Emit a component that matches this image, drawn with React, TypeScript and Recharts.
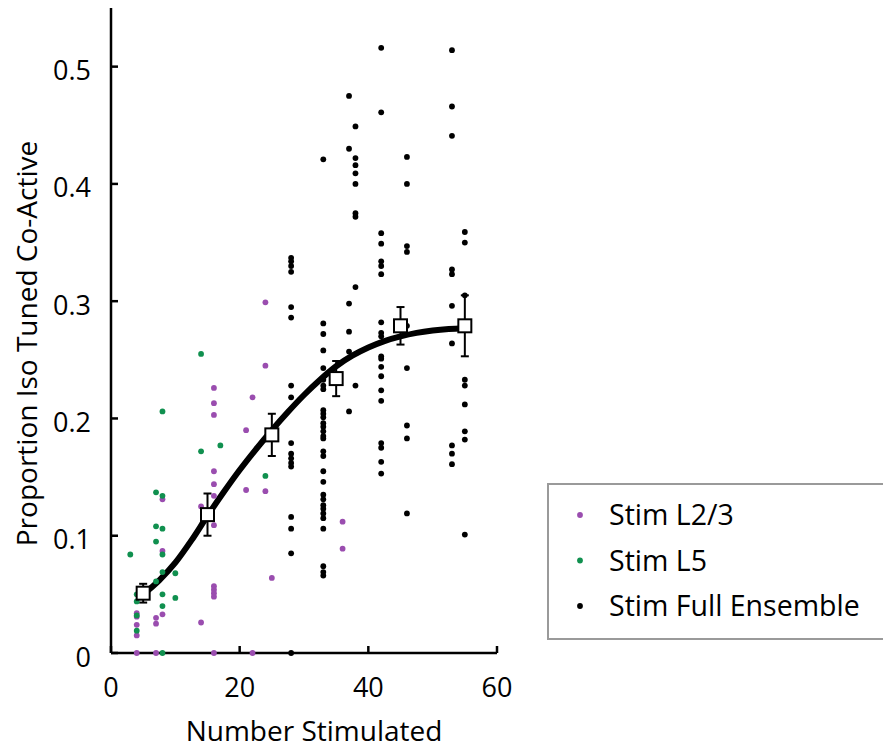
import React from 'react';
import { ComposedChart, Scatter, Line, XAxis, YAxis, ErrorBar, Legend, Label } from 'recharts';

const FONT = '"Open Sans", "Noto Sans", sans-serif';
const PURPLE = '#9a4daf';
const GREEN = '#10904f';
const BLACK = '#000000';

// Stim L2/3 (purple) points: [number stimulated, proportion]
const l23Points: [number, number][] = [
  [4, 0.034], [4, 0.031], [4, 0.024], [4, 0.015], [4, 0],
  [7, 0.030], [7, 0.025], [7, 0],
  [8, 0.131], [8, 0.087], [8, 0.033],
  [14, 0.125], [14, 0.026],
  [16, 0.226], [16, 0.213], [16, 0.203], [16, 0.155], [16, 0.144], [16, 0.134], [16, 0.109],
  [16, 0.057], [16, 0.054], [16, 0.051], [16, 0.048], [16, 0],
  [21, 0.190], [21, 0.139],
  [22, 0.218], [22, 0],
  [24, 0.299], [24, 0.245], [24, 0.138],
  [25, 0.064],
  [36, 0.112], [36, 0.089],
];

// Stim L5 (green) points
const l5Points: [number, number][] = [
  [3, 0.084],
  [4, 0.050], [4, 0.044], [4, 0.032], [4, 0.019],
  [7, 0.137], [7, 0.108], [7, 0.095], [7, 0.061],
  [8, 0.206], [8, 0.134], [8, 0.106], [8, 0.084], [8, 0.069], [8, 0.050], [8, 0.040], [8, 0],
  [10, 0.068], [10, 0.047],
  [14, 0.255], [14, 0.172],
  [17, 0.177],
  [24, 0.151],
];

// Stim Full Ensemble (black) points
const fullPoints: [number, number][] = [
  [28, 0.337], [28, 0.334], [28, 0.330], [28, 0.325], [28, 0.295], [28, 0.286], [28, 0.228], [28, 0.218],
  [28, 0.179], [28, 0.170], [28, 0.166], [28, 0.162], [28, 0.159], [28, 0.116], [28, 0.106], [28, 0.085], [28, 0],
  [33, 0.421], [33, 0.281], [33, 0.272], [33, 0.258], [33, 0.243], [33, 0.233], [33, 0.228], [33, 0.225],
  [33, 0.207], [33, 0.204], [33, 0.201], [33, 0.196], [33, 0.193], [33, 0.189], [33, 0.185], [33, 0.183],
  [33, 0.172], [33, 0.168], [33, 0.155], [33, 0.146], [33, 0.135], [33, 0.131], [33, 0.126], [33, 0.123],
  [33, 0.119], [33, 0.115], [33, 0.106], [33, 0.074], [33, 0.069], [33, 0.066],
  [37, 0.475], [37, 0.430], [37, 0.298], [37, 0.274], [37, 0.257], [37, 0.206],
  [38, 0.449], [38, 0.422], [38, 0.416], [38, 0.409], [38, 0.400], [38, 0.375], [38, 0.372], [38, 0.312], [38, 0.228],
  [42, 0.516], [42, 0.461], [42, 0.358], [42, 0.349], [42, 0.334], [42, 0.330], [42, 0.323], [42, 0.282],
  [42, 0.273], [42, 0.270], [42, 0.253], [42, 0.251], [42, 0.244], [42, 0.236], [42, 0.224], [42, 0.215],
  [42, 0.179], [42, 0.175], [42, 0.163], [42, 0.153],
  [46, 0.423], [46, 0.400], [46, 0.347], [46, 0.342], [46, 0.279], [46, 0.243], [46, 0.194], [46, 0.183], [46, 0.119],
  [53, 0.514], [53, 0.466], [53, 0.441], [53, 0.327], [53, 0.323], [53, 0.296], [53, 0.264], [53, 0.177], [53, 0.170], [53, 0.161],
  [55, 0.359], [55, 0.350], [55, 0.305], [55, 0.233], [55, 0.228], [55, 0.212], [55, 0.189], [55, 0.182], [55, 0.101],
];

// Binned means with error
const meanX = [5, 15, 25, 35, 45, 55];
const meanY = [0.051, 0.118, 0.186, 0.234, 0.279, 0.279];
const meanErr = [0.008, 0.018, 0.018, 0.015, 0.016, 0.026];

// Fitted curve
const curveX = [5, 7.5, 10, 12.5, 15, 17.5, 20, 22.5, 25, 27.5, 30, 32.5, 35, 37.5, 40, 42.5, 45, 47.5, 50, 52.5, 55];
const curveY = [0.050, 0.062, 0.077, 0.096, 0.117, 0.137, 0.156, 0.1735, 0.190, 0.2055, 0.220, 0.233, 0.2445, 0.2535, 0.2605, 0.266, 0.270, 0.273, 0.275, 0.2763, 0.277];

const xTicks = [0, 20, 40, 60];
const yTicks = [0, 0.1, 0.2, 0.3, 0.4, 0.5];

const legendNames = ['Stim L2/3', 'Stim L5', 'Stim Full Ensemble'];
const legendColors = [PURPLE, GREEN, BLACK];

const toPts = (a: [number, number][]) => a.map(([x, y]) => ({ x, y }));
const l23Data = toPts(l23Points);
const l5Data = toPts(l5Points);
const fullData = toPts(fullPoints);
const meanData = meanX.map((x, i) => ({ x, y: meanY[i], err: meanErr[i] }));
const curveData = curveX.map((x, i) => ({ x, y: curveY[i] }));

const dotShape = (color: string) => (p: any) => <circle cx={p.cx} cy={p.cy} r={2.9} fill={color} />;
const boxShape = (p: any) => (
  <rect x={p.cx - 6.5} y={p.cy - 6.5} width={13} height={13} fill="#fff" stroke="#000" strokeWidth={2} />
);
const emptyShape = () => <g />;

const LegendBox = () => (
  <div style={{ width: 345, height: 157, boxSizing: 'border-box', border: '2px solid #9a9a9a', background: '#fff' }}>
    <svg width={341} height={153} style={{ display: 'block' }}>
      {legendNames.map((n, i) => (
        <g key={n}>
          <circle cx={31} cy={30 + i * 45.5} r={2.9} fill={legendColors[i]} />
          <text x={60} y={40 + i * 45.5} fontSize={28.5} fontFamily={FONT} fill="#000">{n}</text>
        </g>
      ))}
    </svg>
  </div>
);

export default function App() {
  return (
    <div style={{ position: 'absolute', left: 0, top: 0, width: 883, height: 748, background: '#fff', overflow: 'hidden' }}>
      <ComposedChart width={883} height={748} margin={{ top: 8, right: 386, bottom: 0, left: 0 }}>
        <XAxis
          type="number"
          dataKey="x"
          domain={[0, 60]}
          ticks={xTicks}
          height={95}
          axisLine={{ stroke: '#000', strokeWidth: 2.5 }}
          tickLine={{ stroke: '#000', strokeWidth: 2.5 }}
          tickSize={-7}
          tickMargin={32}
          tick={{ fontSize: 27, fill: '#000', fontFamily: FONT }}
          interval={0}
        >
          <Label value="Number Stimulated" position="center" dx={10} dy={31} style={{ fontSize: 28, fill: '#000', fontFamily: FONT }} />
        </XAxis>
        <YAxis
          type="number"
          domain={[0, 0.55]}
          ticks={yTicks}
          width={111}
          axisLine={{ stroke: '#000', strokeWidth: 2.5 }}
          tickLine={{ stroke: '#000', strokeWidth: 2.5 }}
          tickSize={-7}
          tickMargin={27}
          tick={{ fontSize: 27, fill: '#000', fontFamily: FONT, dy: 4 }}
          interval={0}
        >
          <Label value="Proportion Iso Tuned Co-Active" angle={-90} position="center" dx={-28} dy={13} style={{ fontSize: 28, fill: '#000', fontFamily: FONT, textAnchor: 'middle' }} />
        </YAxis>
        <Scatter name="Stim L2/3" data={l23Data} dataKey="y" shape={dotShape(PURPLE)} isAnimationActive={false} />
        <Scatter name="Stim L5" data={l5Data} dataKey="y" shape={dotShape(GREEN)} isAnimationActive={false} />
        <Scatter name="Stim Full Ensemble" data={fullData} dataKey="y" shape={dotShape(BLACK)} isAnimationActive={false} />
        <Line data={curveData} dataKey="y" type="monotone" stroke="#000" strokeWidth={6} dot={false} activeDot={false} isAnimationActive={false} legendType="none" />
        <Scatter data={meanData} dataKey="y" shape={boxShape} isAnimationActive={false} legendType="none" />
        <Scatter data={meanData} dataKey="y" shape={emptyShape} isAnimationActive={false} legendType="none">
          <ErrorBar dataKey="err" direction="y" width={4} stroke="#000" strokeWidth={2} isAnimationActive={false} />
        </Scatter>
        <Legend
          layout="horizontal"
          verticalAlign="middle"
          align="center"
          content={() => <LegendBox />}
          wrapperStyle={{ position: 'absolute', left: 547, top: 483, width: 345, height: 157 }}
        />
      </ComposedChart>
    </div>
  );
}
